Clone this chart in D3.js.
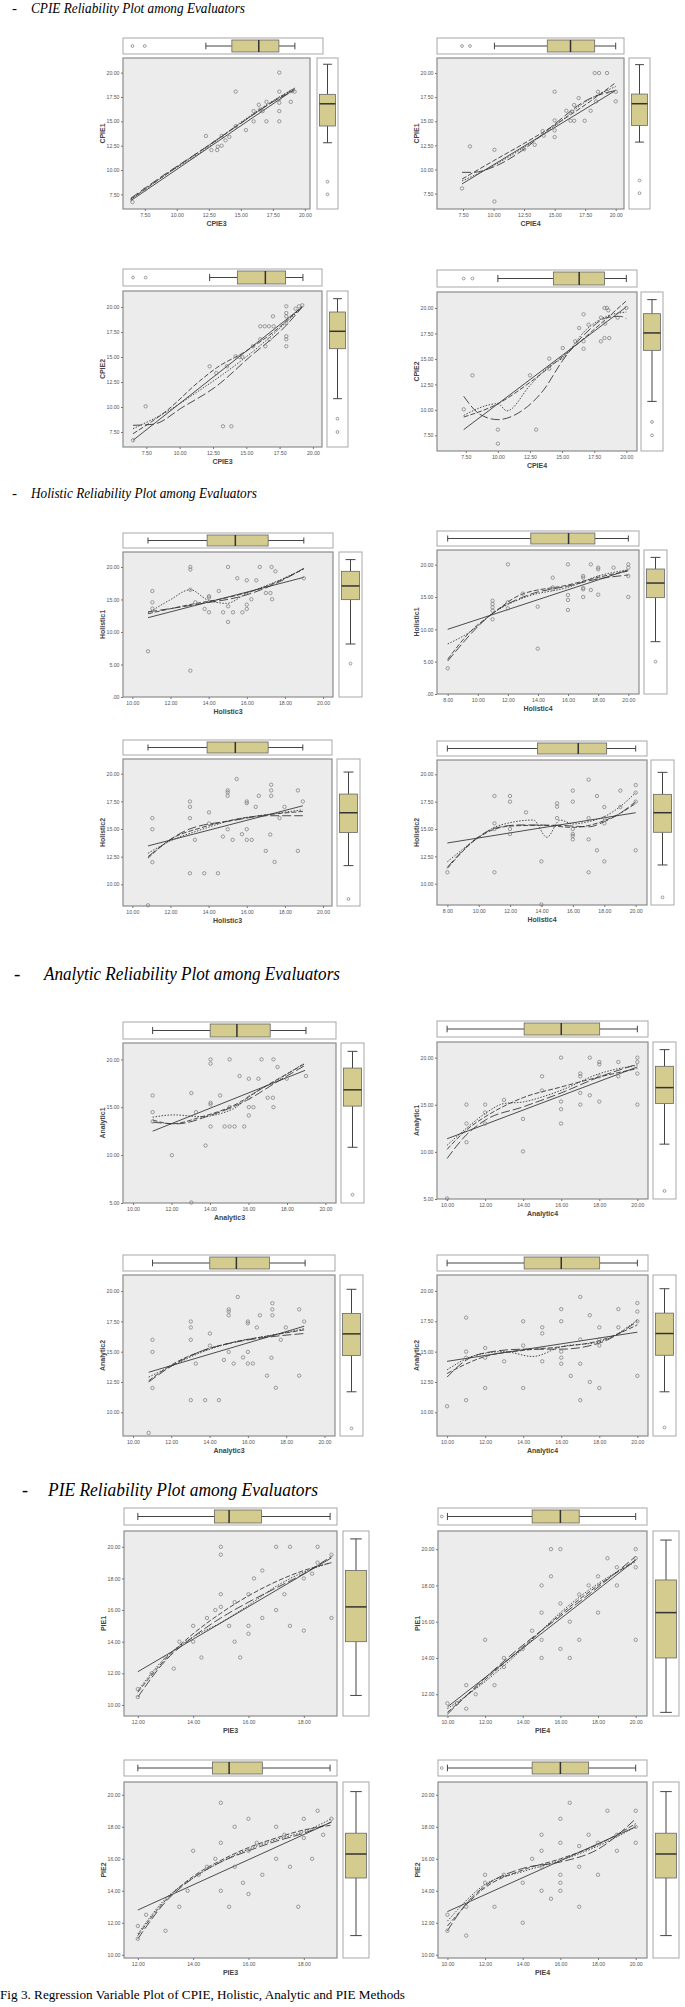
<!DOCTYPE html>
<html>
<head>
<meta charset="utf-8">
<title>Regression Variable Plot of CPIE, Holistic, Analytic and PIE Methods</title>
<script src="https://d3js.org/d3.v7.min.js"></script>
<style>
  body { margin: 0; background: #fff; }
</style>
</head>
<body>
<div id="chart"></div>
<script>
// ---------- texts ----------
var sectionTitles = ["CPIE Reliability Plot among Evaluators",
                     "Holistic Reliability Plot among Evaluators",
                     "Analytic Reliability Plot among Evaluators",
                     "PIE Reliability Plot among Evaluators"];
var caption = "Fig 3. Regression Variable Plot of CPIE, Holistic, Analytic and PIE Methods";

// shared tick lists
var ticks75 = [7.5, 10, 12.5, 15, 17.5, 20];
var ticks8to20 = [8, 10, 12, 14, 16, 18, 20];
var ticks10to20 = [10, 12, 14, 16, 18, 20];
var ticks12to18 = [12, 14, 16, 18];
var ticks12to20 = [12, 14, 16, 18, 20];
var ticks0to20 = [0, 5, 10, 15, 20];
var ticks5to20 = [5, 10, 15, 20];
var ticks10to20q = [10, 12.5, 15, 17.5, 20];

// ---------- panel data: names [x, y], domains, points, fits [linear, quadratic, cubic, loess],
// ---------- boxplots as [low whisker, Q1, median, Q3, high whisker] plus outliers
var p1Names = ["CPIE3", "CPIE1"], p1XDom = [5.8, 20.4], p1YDom = [6.0, 21.5];
var p1Points = [[6.54,6.71],[7.5,8.0],[12.27,13.5],[12.7,12.05],[13.15,12.05],[13.2,12.4],[13.5,13.5],[13.5,12.5],[13.8,13.05],[14.1,13.4],[14.6,18.05],[14.6,14.5],[15.4,14.1],[16.0,15.0],[16.0,16.05],[16.4,16.7],[16.5,16.2],[16.7,16.05],[17.0,17.0],[17.0,15.0],[18.0,20.0],[18.0,18.05],[18.0,17.3],[18.0,16.9],[18.0,16.05],[18.0,15.0],[18.9,17.0],[19.0,18.1],[19.2,18.05]];
var p1Fits = [[[6.4,6.85],[19.2,18.3]],
              [[6.4,7.0],[10,10.3],[14,13.9],[17,16.6],[19.2,18.4]],
              [[6.4,7.1],[9,9.5],[12,12.1],[15,14.8],[17.5,17.0],[19.2,18.2]],
              [[6.4,6.95],[9,9.4],[12,11.95],[15,14.9],[17.5,17.1],[19.2,18.4]]];
var p1XBox = [12.27, 14.3, 16.4, 17.97, 19.22], p1XOut = [6.54, 7.5];
var p1YBox = [12.8, 14.52, 16.8, 17.77, 20.86], p1YOut = [8.8, 7.5];

var p2Names = ["CPIE4", "CPIE1"], p2XDom = [5.37, 20.68], p2YDom = [5.9, 21.56];
var p2Points = [[7.42,8.03],[8.07,12.39],[10.07,12.04],[10.07,6.68],[12.5,12.1],[13.37,12.56],[14.02,13.98],[14.1,13.5],[15.0,18.06],[15.0,15.09],[15.0,14.05],[15.0,13.36],[15.96,16.09],[16.3,15.05],[16.4,16.0],[16.6,15.05],[16.6,16.68],[16.97,17.4],[17.46,15.05],[17.95,16.09],[18.28,20.0],[18.64,20.0],[19.29,20.0],[18.4,17.06],[18.55,18.06],[19.3,18.06],[20.0,18.06],[20.0,17.06]];
var p2Fits = [[[7.42,8.5],[20,18.2]],
              [[7.42,9.0],[10,10.9],[12.5,12.7],[15,14.6],[17.5,16.7],[20,19.0]],
              [[7.42,9.7],[8.3,9.7],[10.07,10.3],[12.5,12.1],[15,14.7],[17.5,17.1],[20,18.2]],
              [[7.42,8.8],[10,10.4],[12.5,12.3],[15,14.5],[17.5,17.0],[20,18.6]]];
var p2XBox = [10.07, 14.4, 16.3, 18.28, 20.0], p2XOut = [7.42, 8.07];
var p2YBox = [12.84, 14.57, 16.82, 17.82, 20.87], p2YOut = [8.86, 7.54];

var p3Names = ["CPIE3", "CPIE2"], p3XDom = [5.75, 20.68], p3YDom = [6.0, 21.6];
var p3Points = [[6.5,6.67],[7.45,10.07],[12.25,14.07],[12.75,13.4],[13.25,8.07],[13.88,8.07],[13.55,14.07],[14.2,15.07],[14.5,15.0],[14.7,15.0],[15.5,16.07],[16.05,18.07],[16.38,18.07],[16.7,18.07],[17.05,18.07],[17.0,19.07],[16.43,16.07],[16.05,16.77],[16.75,16.77],[18.0,20.07],[18.0,19.4],[18.0,19.07],[18.0,18.4],[18.0,17.07],[18.0,16.77],[18.0,16.07],[18.95,20.07],[19.2,20.17],[18.7,19.83]];
var p3Fits = [[[6.5,6.67],[19.2,20.0]],
              [[6.5,7.33],[9,9.6],[11.5,12.6],[12.75,13.9],[15,15.6],[17.5,18.0],[19.2,20.1]],
              [[6.5,8.17],[8.0,8.27],[10.25,10.0],[12.75,12.07],[15.25,15.0],[18,18.17],[19.2,20]],
              [[6.5,7.83],[9,9.5],[11.5,11.67],[14,14],[16.5,16.67],[19.2,20]]];
var p3XBox = [12.25, 14.33, 16.43, 17.95, 19.25], p3XOut = [6.5, 7.45];
var p3YBox = [10.83, 15.83, 17.57, 19.5, 20.83], p3YOut = [8.83, 7.5];

var p4Names = ["CPIE4", "CPIE2"], p4XDom = [5.26, 20.83], p4YDom = [5.96, 21.57];
var p4Points = [[7.34,10.05],[8.02,13.39],[10.0,8.06],[10.0,6.68],[12.5,13.39],[12.98,8.06],[14.0,15.03],[14.0,14.04],[15.05,16.07],[15.05,15.12],[16.02,16.73],[16.33,18.04],[16.67,19.38],[16.67,16.73],[16.67,16.0],[17.06,18.36],[18.02,19.05],[18.02,16.73],[18.3,20.0],[18.3,17.05],[18.49,20.0],[18.67,17.05],[18.6,19.77],[19.32,19.05],[20.0,20.0],[18.35,18.46]];
var p4Fits = [[[7.34,8.06],[20,20.1]],
              [[7.34,9.3],[10,10.6],[12.5,12.7],[15,15.2],[17.5,17.9],[20,20.7]],
              [[7.34,11.33],[8.6,9.56],[10,9.04],[11.72,9.79],[13.54,11.92],[15.05,14.86],[16.93,17.64],[18.49,19.05],[19.53,19.18],[20,18.95]],
              [[7.34,9.46],[10,10.6],[10.7,9.9],[12.5,12.4],[14,14.3],[15.05,15.1],[16.9,17.9],[18.5,19.2],[20,19.6]]];
var p4XBox = [10.0, 14.32, 16.33, 18.3, 20.0], p4XOut = [7.34, 8.02];
var p4YBox = [10.83, 15.84, 17.55, 19.44, 20.82], p4YOut = [8.81, 7.5];

var p5Names = ["Holistic3", "Holistic1"], p5XDom = [9.51, 20.52], p5YDom = [0, 22.3];
var p5Points = [[10.82,7.03],[11.05,16.3],[11.05,14.56],[11.05,13.6],[13.04,20.0],[13.04,19.6],[13.04,16.5],[13.04,4.05],[13.3,14.56],[13.79,13.54],[14.02,15.5],[14.02,15.3],[14.02,13.03],[14.53,16.3],[14.76,13.03],[15.02,20.0],[15.02,13.95],[15.02,11.54],[15.28,13.03],[15.5,18.26],[15.77,13.03],[16.0,17.95],[16.0,14.2],[16.0,13.54],[16.24,15.03],[16.5,17.95],[16.68,20.0],[17.0,16.0],[17.24,16.0],[17.3,20.0],[17.33,15.03],[17.5,19.33],[18.99,18.26]];
var p5Fits = [[[10.82,12.2],[18.99,18.4]],
              [[10.82,12.8],[13,14.2],[15,15.3],[17,17.0],[18.99,19.7]],
              [[10.82,13.1],[13.5,14.3],[15.98,15.7],[17.7,17.7],[18.99,19.8]],
              [[10.82,12.9],[11.96,14.9],[13.04,16.5],[13.9,15.0],[14.93,14.4],[15.98,15.9],[17.7,17.95],[18.99,19.7]]];
var p5XBox = [10.82, 13.92, 15.4, 17.12, 18.99], p5XOut = [];
var p5YBox = [8.15, 14.97, 17.08, 19.33, 21.13], p5YOut = [5.13];

var p6Names = ["Holistic4", "Holistic1"], p6XDom = [7.29, 20.71], p6YDom = [0, 22.27];
var p6Points = [[8.0,3.97],[10.98,14.43],[10.98,13.92],[10.98,13.4],[10.98,12.89],[10.98,11.55],[12.0,20.05],[12.0,14.18],[12.0,13.25],[12.99,15.52],[13.98,13.5],[13.98,7.01],[14.98,17.99],[14.98,16.49],[14.98,16.24],[15.99,20.05],[15.99,15.31],[15.99,14.54],[15.99,12.99],[17.0,18.25],[17.0,17.99],[17.0,16.39],[17.0,16.19],[17.0,15.0],[17.51,20.05],[17.51,16.08],[18.0,19.54],[18.0,19.28],[18.0,17.99],[18.0,15.36],[19.02,19.54],[20.0,20.05],[20.0,19.54],[20.0,18.25],[20.0,15.0]];
var p6Fits = [[[8,10.0],[20,19.18]],
              [[8,5.36],[9.5,9.64],[11,12.47],[12.8,15.3],[16,16.86],[18,18.04],[20,19.02]],
              [[8,5.1],[11,12.5],[13.47,15.4],[16,16.7],[18,17.8],[20,18.4]],
              [[8,7.73],[9.5,9.64],[11,12.5],[13.25,15.05],[16,16.5],[18,18.25],[20,19.2]]];
var p6XBox = [8.0, 13.52, 16.03, 17.78, 20.0], p6XOut = [];
var p6YBox = [8.09, 14.9, 17.16, 19.33, 21.13], p6YOut = [5.0];

var p7Names = ["Holistic3", "Holistic2"], p7XDom = [9.51, 20.47], p7YDom = [8.04, 21.33];
var p7Points = [[10.82,8.1],[11.05,15.98],[11.05,14.98],[11.05,12.0],[13.02,17.49],[13.02,17.0],[13.02,15.98],[13.02,11.0],[13.28,14.02],[13.77,11.0],[14.02,16.5],[14.02,15.5],[14.49,11.0],[14.75,14.32],[15.0,18.49],[15.0,18.31],[15.0,18.0],[15.0,14.98],[15.26,14.02],[15.47,19.52],[15.75,14.53],[16.0,17.49],[16.0,17.34],[16.0,14.98],[16.0,14.02],[16.26,14.02],[16.47,17.0],[16.63,18.0],[17.0,13.02],[17.23,14.5],[17.28,19.0],[17.28,18.49],[17.28,18.0],[17.46,12.02],[17.72,15.98],[17.98,17.0],[18.68,18.49],[18.68,13.02],[18.94,17.49]];
var p7Fits = [[[10.82,13.47],[18.94,17.1]],
              [[10.82,12.36],[11.96,14.02],[13.54,15.08],[15.3,15.83],[17.05,16.28],[18.94,16.59]],
              [[10.82,12.5],[13.0,15.0],[15.3,15.77],[17.05,16.2],[18.94,16.2]],
              [[10.82,12.8],[11.96,13.9],[13.54,14.9],[15.3,15.83],[17.05,16.3],[18.94,16.74]]];
var p7XBox = [10.82, 13.92, 15.4, 17.12, 18.94], p7XOut = [];
var p7YBox = [11.69, 14.68, 16.47, 18.16, 20.15], p7YOut = [8.67];

var p8Names = ["Holistic4", "Holistic2"], p8XDom = [7.34, 20.72], p8YDom = [8.05, 21.31];
var p8Points = [[8.0,11.04],[11.0,18.02],[11.0,15.52],[11.0,15.0],[11.0,11.04],[11.99,18.02],[11.99,17.5],[11.99,15.0],[11.99,14.54],[13.01,16.52],[13.99,12.04],[13.99,8.1],[14.99,17.35],[14.99,17.04],[14.99,16.0],[15.99,18.51],[15.99,17.5],[15.99,15.0],[15.99,14.54],[15.99,14.36],[15.99,14.05],[17.0,19.51],[17.0,16.0],[17.0,14.05],[17.0,11.04],[17.53,18.02],[17.53,13.05],[18.0,17.01],[18.0,16.0],[18.0,15.52],[18.0,12.04],[19.02,18.51],[19.02,17.01],[20.0,19.02],[20.0,18.32],[20.0,17.5],[20.0,13.05]];
var p8Fits = [[[8,13.72],[20,16.49]],
              [[8,11.4],[10,14.24],[12,15.27],[14,15.34],[16,15.15],[18,15.76],[19,16.43],[20,17.35]],
              [[8,11.5],[10,14.3],[11,15.06],[12.63,15.37],[15,15.34],[17,15.2],[18,15.67],[19,16.43],[20,17.5]],
              [[8,12.0],[10,14.24],[11,15.15],[12,15.58],[13.48,15.82],[14.34,14.24],[15.19,15.82],[16,15.46],[17,15.67],[18,16.13],[19,17.04],[20,18.32]]];
var p8XBox = [8.0, 13.74, 16.34, 18.15, 20.0], p8XOut = [];
var p8YBox = [11.71, 14.7, 16.49, 18.17, 20.18], p8YOut = [8.75];

var p9Names = ["Analytic3", "Analytic1"], p9XDom = [9.48, 20.55], p9YDom = [5.0, 21.71];
var p9Points = [[11.02,16.23],[11.02,14.49],[11.02,13.51],[12.02,9.99],[13.03,16.48],[13.03,5.05],[13.27,14.49],[13.77,11.0],[14.03,20.0],[14.03,19.55],[14.03,15.46],[14.03,15.29],[14.03,12.99],[14.53,16.23],[14.76,12.99],[15.02,20.0],[15.02,15.01],[15.02,12.99],[15.28,12.99],[15.54,18.26],[15.78,12.99],[16.02,17.98],[16.02,15.99],[16.02,15.01],[16.02,14.14],[16.26,15.01],[16.52,17.98],[16.68,20.0],[17.0,15.99],[17.27,15.99],[17.3,20.0],[17.3,15.01],[17.51,19.2],[17.99,17.98],[18.99,18.26]];
var p9Fits = [[[11.02,12.5],[18.94,18.85]],
              [[11.02,13.68],[12.02,13.27],[13.5,13.96],[15.22,15.18],[16.96,17.28],[18.94,19.55]],
              [[11.02,13.44],[12.28,13.27],[14.0,14.14],[15.9,15.71],[17.47,17.63],[18.94,19.37]],
              [[11.02,13.96],[12.11,14.2],[13.5,14.03],[15.22,14.84],[16.09,16.23],[17.47,17.8],[18.85,19.55]]];
var p9XBox = [11.02, 14.01, 15.4, 17.13, 18.99], p9XOut = [];
var p9YBox = [10.82, 15.12, 16.82, 19.09, 20.84], p9YOut = [5.87];

var p10Names = ["Analytic4", "Analytic1"], p10XDom = [9.47, 20.56], p10YDom = [5.0, 21.66];
var p10Points = [[10.0,5.05],[11.02,15.02],[11.02,13.01],[11.02,11.03],[12.0,15.02],[12.0,14.18],[12.0,13.01],[12.99,15.52],[13.99,13.5],[13.99,10.05],[14.99,18.02],[14.99,16.51],[15.99,20.0],[15.99,15.34],[15.99,14.53],[15.99,13.01],[17.0,18.31],[17.0,18.02],[17.0,16.26],[17.0,15.02],[17.5,20.0],[17.5,16.01],[18.0,19.54],[18.0,19.29],[18.0,18.02],[18.0,15.34],[19.0,19.54],[19.0,18.02],[20.0,20.0],[20.0,19.54],[20.0,18.31],[20.0,15.02]];
var p10Fits = [[[10,11.39],[20,19.01]],
               [[10,10.26],[11,12.3],[12,13.72],[14,15.76],[16,16.89],[18,17.95],[20,18.84]],
               [[10,9.3],[11,11.78],[12,13.36],[14,14.78],[16,16.26],[18,17.95],[20,19.3]],
               [[10,10.7],[11,12.48],[12,14.07],[13,15.13],[14,15.3],[15,15.83],[16,16.54],[18,18.3],[20,19.19]]];
var p10XBox = [10.0, 14.05, 16.0, 18.02, 20.0], p10XOut = [];
var p10YBox = [10.82, 15.13, 16.82, 19.08, 20.85], p10YOut = [5.85];

var p11Names = ["Analytic3", "Analytic2"], p11XDom = [9.48, 20.55], p11YDom = [8.04, 21.33];
var p11Points = [[10.82,8.3],[11.02,15.98],[11.02,14.98],[11.02,12.0],[13.02,17.49],[13.02,17.0],[13.02,15.98],[13.02,11.0],[13.28,14.02],[13.77,11.0],[14.02,16.5],[14.02,15.5],[14.49,11.0],[14.75,14.32],[15.0,18.49],[15.0,18.31],[15.0,18.0],[15.0,14.98],[15.26,14.02],[15.47,19.52],[15.75,14.53],[16.0,17.49],[16.0,17.34],[16.0,14.98],[16.0,14.02],[16.26,14.02],[16.47,17.0],[16.63,18.0],[17.0,13.02],[17.23,14.5],[17.28,19.0],[17.28,18.49],[17.28,18.0],[17.46,12.02],[17.72,15.98],[17.98,17.0],[18.68,18.49],[18.68,13.02],[18.94,17.49]];
var p11Fits = [[[10.82,13.3],[18.94,17.1]],
               [[10.82,12.6],[12,13.9],[13.5,15.0],[15.3,15.8],[17.05,16.3],[18.94,16.8]],
               [[10.82,12.5],[12,13.8],[13.5,15.0],[15.3,15.77],[17.05,16.2],[18.94,16.5]],
               [[10.82,12.9],[12,13.8],[13.5,14.9],[15.3,15.8],[17.05,16.3],[18.94,16.9]]];
var p11XBox = [11.02, 14.01, 15.4, 17.13, 18.99], p11XOut = [];
var p11YBox = [11.69, 14.68, 16.47, 18.16, 20.15], p11YOut = [8.67];

var p12Names = ["Analytic4", "Analytic2"], p12XDom = [9.47, 20.56], p12YDom = [8.05, 21.31];
var p12Points = [[10,10.5],[11,11.0],[11,14.5],[11,15.0],[11,17.8],[12,12.0],[12,14.5],[12,15.3],[13,14.2],[14,12.0],[14,15.5],[14,17.5],[15,16.5],[15,17.0],[15,15.3],[15,14.2],[16,14.0],[16,14.5],[16,15.0],[16,17.5],[16,18.5],[16.5,13.0],[17,19.5],[17,16.0],[17,14.0],[17,11.0],[17.5,18.0],[17.5,12.5],[18,17.0],[18,16.0],[18,15.5],[18,12.0],[19,18.5],[19,17.0],[20,19.0],[20,18.3],[20,17.5],[20,13.0]];
var p12Fits = [[[10,14.2],[20,16.6]],
               [[10,13.2],[12,14.6],[14,15.1],[16,15.4],[18,15.9],[20,17.2]],
               [[10,12.9],[11,14.3],[12,14.9],[14,15.2],[16,15.2],[18,15.7],[20,17.5]],
               [[10,13.5],[11.5,14.7],[13,15.0],[14.5,14.6],[16,15.4],[18,15.8],[20,17.6]]];
var p12XBox = [10.0, 14.05, 16.0, 18.02, 20.0], p12XOut = [];
var p12YBox = [11.69, 14.7, 16.49, 18.17, 20.18], p12YOut = [8.75];

var p13Names = ["PIE3", "PIE1"], p13XDom = [11.5, 19.2], p13YDom = [9.3, 21.0];
var p13Points = [[12,10.5],[12,11],[12.5,12],[13,13],[13.3,12.3],[13.5,14],[14,14],[14,15],[14.3,13],[14.5,15.5],[14.8,16],[15,16.2],[15,19.5],[15,20],[15,17],[15.3,15],[15.5,14],[15.5,16.5],[15.7,13],[16,17],[16,15],[16,14.5],[16.2,18],[16.5,18.5],[16.5,15.5],[17,20],[17,16],[17.3,17],[17.5,20],[17.5,15],[18,18],[18,14.7],[18.3,18.3],[18.5,20],[18.5,19],[19,19.5],[19,15.5]];
var p13Fits = [[[12,12.1],[19,19.3]],
               [[12,10.8],[13,12.9],[14,14.5],[15,15.8],[16,16.9],[17,17.8],[18,18.5],[19,19.0]],
               [[12,10.5],[13,12.8],[14,14.3],[15,15.5],[16,16.5],[17,17.4],[18,18.3],[19,19.4]],
               [[12,10.9],[13,13.0],[14,14.3],[15,15.2],[16,16.3],[17,17.5],[18,18.4],[19,19.0]]];
var p13XBox = [12.0, 14.77, 15.3, 16.47, 18.95], p13XOut = [];
var p13YBox = [10.6, 14.0, 16.2, 18.5, 20.5], p13YOut = [];

var p14Names = ["PIE4", "PIE1"], p14XDom = [9.5, 20.6], p14YDom = [10.8, 21.0];
var p14Points = [[10,11.5],[10.5,11.5],[11,11.2],[11,12.5],[11.5,12],[12,15],[12.5,12.5],[13,13.5],[13,14],[14,14.5],[14.5,15.5],[15,14],[15,15],[15,16.5],[15,18],[15.5,18.5],[15.5,20],[16,20],[16,17],[16,14.5],[16.5,16],[16.5,14],[17,17.5],[17,15],[17.5,18],[18,18.5],[18,16.5],[18.5,19.5],[19,18],[19,19],[20,20],[20,19.5],[20,15],[20,19]];
var p14Fits = [[[10,11.3],[20,19.4]],
               [[10,11.0],[12,12.8],[14,14.6],[16,16.4],[18,18.0],[20,19.4]],
               [[10,10.9],[12,12.9],[14,14.7],[16,16.3],[18,17.9],[20,19.6]],
               [[10,11.2],[12,12.7],[14,14.5],[16,16.5],[18,18.1],[20,19.3]]];
var p14XBox = [10.0, 14.5, 16.0, 17.0, 20.0], p14XOut = [9.7];
var p14YBox = [11.0, 14.0, 16.5, 18.3, 20.5], p14YOut = [];

var p15Names = ["PIE3", "PIE2"], p15XDom = [11.5, 19.2], p15YDom = [9.8, 20.8];
var p15Points = [[12,11],[12,11.8],[12.3,12.5],[13,11.5],[13.5,13],[13.8,14],[14,16.5],[14.2,15],[14.5,15.5],[14.8,16],[15,14],[15,17],[15,19.5],[15.3,13],[15.5,15.5],[15.5,18],[15.8,14.5],[16,16.5],[16,18.5],[16,13.8],[16.3,17],[16.5,15],[17,16],[17,18],[17.3,17.5],[17.5,15.5],[17.8,13],[18,18.5],[18,17.3],[18.3,16],[18.5,19],[18.7,17.5],[19,18.5]];
var p15Fits = [[[12,12.8],[19,18.3]],
               [[12,11.2],[13,13.4],[14,14.9],[15,15.9],[16,16.7],[17,17.3],[18,17.8],[19,18.1]],
               [[12,11.0],[13,13.3],[14,14.8],[15,15.8],[16,16.5],[17,17.1],[18,17.6],[19,18.3]],
               [[12,11.3],[13,13.5],[14,14.8],[15,15.8],[16,16.6],[17,17.2],[18,17.7],[19,18.5]]];
var p15XBox = [12.0, 14.7, 15.3, 16.5, 18.95], p15XOut = [];
var p15YBox = [11.2, 14.8, 16.3, 17.6, 20.2], p15YOut = [];

var p16Names = ["PIE4", "PIE2"], p16XDom = [9.5, 20.6], p16YDom = [9.8, 20.8];
var p16Points = [[10,11.5],[10,12.5],[11,11.2],[11,13],[12,14.5],[12,15],[12.5,13],[13,15],[14,12],[14,14.5],[14.5,16],[15,14],[15,15.5],[15,16.5],[15,17.5],[15.5,13.5],[16,14],[16,14.5],[16,15],[16,17],[16,18.5],[16.5,19.5],[17,15.5],[17,16.8],[17,13],[17.5,17.5],[18,15],[18,17],[18.5,19],[19,17.5],[19,16.5],[20,18],[20,17],[20,19]];
var p16Fits = [[[10,12.7],[20,18.0]],
               [[10,11.8],[12,14.2],[14,15.3],[16,16.0],[18,16.9],[20,18.2]],
               [[10,11.5],[11,13.2],[12,14.3],[14,15.4],[16,15.8],[18,16.6],[20,18.5]],
               [[10,12.1],[12,14.4],[14,15.2],[16,15.9],[18,16.8],[20,18.0]]];
var p16XBox = [10.0, 14.5, 16.0, 17.5, 20.0], p16XOut = [9.7];
var p16YBox = [11.2, 14.8, 16.3, 17.6, 20.2], p16YOut = [];

// table the drawing code walks through
var panels = [
  [p1Names, p1XDom, p1YDom, ticks75, ticks75, p1Points, p1Fits, p1XBox, p1XOut, p1YBox, p1YOut],
  [p2Names, p2XDom, p2YDom, ticks75, ticks75, p2Points, p2Fits, p2XBox, p2XOut, p2YBox, p2YOut],
  [p3Names, p3XDom, p3YDom, ticks75, ticks75, p3Points, p3Fits, p3XBox, p3XOut, p3YBox, p3YOut],
  [p4Names, p4XDom, p4YDom, ticks75, ticks75, p4Points, p4Fits, p4XBox, p4XOut, p4YBox, p4YOut],
  [p5Names, p5XDom, p5YDom, ticks10to20, ticks0to20, p5Points, p5Fits, p5XBox, p5XOut, p5YBox, p5YOut],
  [p6Names, p6XDom, p6YDom, ticks8to20, ticks0to20, p6Points, p6Fits, p6XBox, p6XOut, p6YBox, p6YOut],
  [p7Names, p7XDom, p7YDom, ticks10to20, ticks10to20q, p7Points, p7Fits, p7XBox, p7XOut, p7YBox, p7YOut],
  [p8Names, p8XDom, p8YDom, ticks8to20, ticks10to20q, p8Points, p8Fits, p8XBox, p8XOut, p8YBox, p8YOut],
  [p9Names, p9XDom, p9YDom, ticks10to20, ticks5to20, p9Points, p9Fits, p9XBox, p9XOut, p9YBox, p9YOut],
  [p10Names, p10XDom, p10YDom, ticks10to20, ticks5to20, p10Points, p10Fits, p10XBox, p10XOut, p10YBox, p10YOut],
  [p11Names, p11XDom, p11YDom, ticks10to20, ticks10to20q, p11Points, p11Fits, p11XBox, p11XOut, p11YBox, p11YOut],
  [p12Names, p12XDom, p12YDom, ticks10to20, ticks10to20q, p12Points, p12Fits, p12XBox, p12XOut, p12YBox, p12YOut],
  [p13Names, p13XDom, p13YDom, ticks12to18, ticks10to20, p13Points, p13Fits, p13XBox, p13XOut, p13YBox, p13YOut],
  [p14Names, p14XDom, p14YDom, ticks10to20, ticks12to20, p14Points, p14Fits, p14XBox, p14XOut, p14YBox, p14YOut],
  [p15Names, p15XDom, p15YDom, ticks12to18, ticks10to20, p15Points, p15Fits, p15XBox, p15XOut, p15YBox, p15YOut],
  [p16Names, p16XDom, p16YDom, ticks10to20, ticks10to20, p16Points, p16Fits, p16XBox, p16XOut, p16YBox, p16YOut]
];

// ---------- layout (pixels) ----------
// [plot left, plot right, top box right, top box top, top box bottom, plot top, plot bottom, side box left, side box right]
var frames = [
  [123, 310, 323, 38, 54, 58, 209, 317, 338],
  [437, 624, 624, 38, 54, 58, 209, 629, 650],
  [123, 322, 322, 269, 286, 291, 447, 327, 348],
  [437, 637, 637, 270, 287, 292, 451, 641, 663],
  [123, 333, 333, 533, 548, 552, 697, 339, 362],
  [437, 639, 639, 531, 546, 550, 694, 644, 667],
  [123, 332, 332, 740, 755, 759, 906, 337, 360],
  [437, 647, 647, 741, 756, 760, 905, 651, 674],
  [123, 336, 336, 1022, 1039, 1043, 1203, 341, 364],
  [437, 648, 648, 1021, 1037, 1042, 1199, 653, 676],
  [123, 335, 335, 1255, 1271, 1275, 1436, 340, 363],
  [437, 648, 648, 1255, 1271, 1275, 1436, 653, 676],
  [124, 337, 337, 1508, 1525, 1531, 1716, 343, 369],
  [438, 647, 647, 1508, 1525, 1531, 1716, 653, 679],
  [124, 337, 337, 1760, 1776, 1782, 1958, 343, 369],
  [438, 647, 647, 1760, 1776, 1782, 1958, 653, 679]
];
// [baseline, dash x, text x, font size, text width]
var headerPos = [[13, 12, 31, 15, 214], [498, 12, 31, 15, 226], [980, 14, 44, 19, 296], [1496, 22, 48, 18, 270]];

var boxFill = "#d4cc8e";
var fitDash = [null, "5,2", "9,3", "1.5,1.5"];

var svg = d3.select("#chart").append("svg")
    .attr("width", 685)
    .attr("height", 2007)
    .style("font-family", "Arial, 'Liberation Sans', sans-serif");

function fmt(v) {
    return v === 0 ? ".00" : v.toFixed(2);
}

// section headings
headerPos.forEach(function (h, i) {
    var g = svg.append("g").style("font-family", "'Liberation Serif', 'Times New Roman', serif");
    g.append("text").attr("x", h[1]).attr("y", h[0]).attr("font-size", h[3]).text("-");
    g.append("text").attr("x", h[2]).attr("y", h[0]).attr("font-size", h[3])
        .attr("font-style", "italic")
        .attr("textLength", h[4]).attr("lengthAdjust", "spacingAndGlyphs")
        .text(sectionTitles[i]);
});

svg.append("text")
    .attr("x", 0).attr("y", 1999)
    .attr("font-size", 13)
    .style("font-family", "'Liberation Serif', 'Times New Roman', serif")
    .attr("textLength", 405).attr("lengthAdjust", "spacingAndGlyphs")
    .text(caption);

panels.forEach(function (p, i) { drawPanel(p, frames[i], i); });

function drawPanel(p, f, idx) {
    var names = p[0], xDom = p[1], yDom = p[2], xTicks = p[3], yTicks = p[4];
    var pts = p[5], fits = p[6], xBox = p[7], xOut = p[8], yBox = p[9], yOut = p[10];
    var x0 = f[0], x1 = f[1], bx1 = f[2], bTop = f[3], bBot = f[4], pTop = f[5], pBot = f[6], sx0 = f[7], sx1 = f[8];

    var x = d3.scaleLinear().domain(xDom).range([x0, x1]);
    var y = d3.scaleLinear().domain(yDom).range([pBot, pTop]);
    var g = svg.append("g");

    // top boxplot (x variable)
    g.append("rect").attr("x", x0).attr("y", bTop).attr("width", bx1 - x0).attr("height", bBot - bTop)
        .attr("fill", "#fff").attr("stroke", "#a8a8a8").attr("stroke-width", 1);
    var cy = (bTop + bBot) / 2, bh = bBot - bTop - 4, cap = bh * 0.55;
    g.append("line").attr("x1", x(xBox[0])).attr("x2", x(xBox[1])).attr("y1", cy).attr("y2", cy).attr("stroke", "#444");
    g.append("line").attr("x1", x(xBox[3])).attr("x2", x(xBox[4])).attr("y1", cy).attr("y2", cy).attr("stroke", "#444");
    [xBox[0], xBox[4]].forEach(function (v) {
        g.append("line").attr("x1", x(v)).attr("x2", x(v)).attr("y1", cy - cap / 2).attr("y2", cy + cap / 2).attr("stroke", "#444");
    });
    g.append("rect").attr("x", x(xBox[1])).attr("y", cy - bh / 2).attr("width", x(xBox[3]) - x(xBox[1])).attr("height", bh)
        .attr("fill", boxFill).attr("stroke", "#666").attr("stroke-width", 0.8);
    g.append("line").attr("x1", x(xBox[2])).attr("x2", x(xBox[2])).attr("y1", cy - bh / 2).attr("y2", cy + bh / 2)
        .attr("stroke", "#333").attr("stroke-width", 1.5);
    g.selectAll(null).data(xOut).enter().append("circle")
        .attr("cx", function (d) { return x(d); }).attr("cy", cy).attr("r", 1.4)
        .attr("fill", "none").attr("stroke", "#777").attr("stroke-width", 0.7);

    // side boxplot (y variable)
    g.append("rect").attr("x", sx0).attr("y", pTop).attr("width", sx1 - sx0).attr("height", pBot - pTop)
        .attr("fill", "#fff").attr("stroke", "#a8a8a8").attr("stroke-width", 1);
    var cx = (sx0 + sx1) / 2, bw = sx1 - sx0 - 5, capw = bw * 0.55;
    g.append("line").attr("x1", cx).attr("x2", cx).attr("y1", y(yBox[0])).attr("y2", y(yBox[1])).attr("stroke", "#444");
    g.append("line").attr("x1", cx).attr("x2", cx).attr("y1", y(yBox[3])).attr("y2", y(yBox[4])).attr("stroke", "#444");
    [yBox[0], yBox[4]].forEach(function (v) {
        g.append("line").attr("x1", cx - capw / 2).attr("x2", cx + capw / 2).attr("y1", y(v)).attr("y2", y(v)).attr("stroke", "#444");
    });
    g.append("rect").attr("x", cx - bw / 2).attr("y", y(yBox[3])).attr("width", bw).attr("height", y(yBox[1]) - y(yBox[3]))
        .attr("fill", boxFill).attr("stroke", "#666").attr("stroke-width", 0.8);
    g.append("line").attr("x1", cx - bw / 2).attr("x2", cx + bw / 2).attr("y1", y(yBox[2])).attr("y2", y(yBox[2]))
        .attr("stroke", "#333").attr("stroke-width", 1.5);
    g.selectAll(null).data(yOut).enter().append("circle")
        .attr("cx", cx).attr("cy", function (d) { return y(d); }).attr("r", 1.4)
        .attr("fill", "none").attr("stroke", "#777").attr("stroke-width", 0.7);

    // scatter frame
    g.append("rect").attr("x", x0).attr("y", pTop).attr("width", x1 - x0).attr("height", pBot - pTop)
        .attr("fill", "#ececec").attr("stroke", "#8c8c8c").attr("stroke-width", 1.2);

    // axes
    var xa = g.append("g").attr("transform", "translate(0," + pBot + ")")
        .call(d3.axisBottom(x).tickValues(xTicks).tickSize(2).tickPadding(2).tickFormat(fmt));
    var ya = g.append("g").attr("transform", "translate(" + x0 + ",0)")
        .call(d3.axisLeft(y).tickValues(yTicks).tickSize(2).tickPadding(1.5).tickFormat(fmt));
    [xa, ya].forEach(function (a) {
        a.select(".domain").remove();
        a.selectAll("line").attr("stroke", "#777");
        a.selectAll("text").attr("font-size", 5.2).attr("fill", "#555").attr("font-family", "Arial, 'Liberation Sans', sans-serif");
    });

    g.append("text").attr("x", (x0 + x1) / 2).attr("y", pBot + 17)
        .attr("text-anchor", "middle").attr("font-size", 7).attr("font-weight", "bold").attr("fill", "#444")
        .text(names[0]);
    g.append("text")
        .attr("transform", "translate(" + (x0 - 18) + "," + ((pTop + pBot) / 2) + ") rotate(-90)")
        .attr("text-anchor", "middle").attr("font-size", 7).attr("font-weight", "bold").attr("fill", "#444")
        .text(names[1]);

    // fits, clipped to the plot area
    var clipId = "clip" + idx;
    svg.append("clipPath").attr("id", clipId).append("rect")
        .attr("x", x0).attr("y", pTop).attr("width", x1 - x0).attr("height", pBot - pTop);
    var line = d3.line().x(function (d) { return x(d[0]); }).y(function (d) { return y(d[1]); })
        .curve(d3.curveMonotoneX);
    var fg = g.append("g").attr("clip-path", "url(#" + clipId + ")");
    fits.forEach(function (fit, k) {
        fg.append("path").attr("d", line(fit)).attr("fill", "none")
            .attr("stroke", "#3a3a3a").attr("stroke-width", 0.9)
            .attr("stroke-dasharray", fitDash[k]);
    });

    // observed points
    g.selectAll(null).data(pts).enter().append("circle")
        .attr("cx", function (d) { return x(d[0]); })
        .attr("cy", function (d) { return y(d[1]); })
        .attr("r", 1.7)
        .attr("fill", "none").attr("stroke", "#777").attr("stroke-width", 0.7);
}
</script>
</body>
</html>
